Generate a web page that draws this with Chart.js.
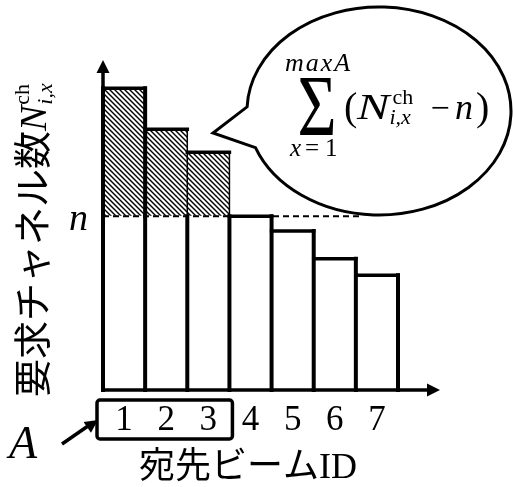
<!DOCTYPE html>
<html>
<head>
<meta charset="utf-8">
<script src="https://cdn.jsdelivr.net/npm/chart.js@4"></script>
<style>
  html, body { margin: 0; padding: 0; background: #fff; }
  canvas { display: block; }
</style>
</head>
<body>
<canvas id="beam-chart" width="513" height="487"></canvas>
<script>
// Requested channels per destination beam
const beamIds = ['1', '2', '3', '4', '5', '6', '7'];
const requestedChannels = [18.4, 15.9, 14.5, 10.6, 9.7, 8.0, 7.0];
const channelLimit = 10.6;   // n
const groupSize = 3;         // beams inside A
const yMax = 20;

const SERIF = "'Liberation Serif', 'DejaVu Serif', serif";
const JP = "'Liberation Serif', 'Noto Sans CJK JP', sans-serif";

// Split each bar into the part up to n and the excess above it
const baseValues = requestedChannels.map(v => Math.min(v, channelLimit));
const excessValues = requestedChannels.map(v => (v > channelLimit ? v - channelLimit : null));

// Diagonal hatch fill for the excess part
function makeHatch() {
  const s = 5;
  const tile = document.createElement('canvas');
  tile.width = s;
  tile.height = s;
  const t = tile.getContext('2d');
  t.fillStyle = '#fff';
  t.fillRect(0, 0, s, s);
  t.strokeStyle = '#000';
  t.lineWidth = 1.4;
  for (const c of [-s, 0, s]) {
    t.beginPath();
    t.moveTo(-1, -1 + c);
    t.lineTo(s + 1, s + 1 + c);
    t.stroke();
  }
  return t.createPattern(tile, 'repeat');
}

function arrowHead(ctx, x, y, angle, len, half) {
  ctx.save();
  ctx.translate(x, y);
  ctx.rotate(angle);
  ctx.beginPath();
  ctx.moveTo(0, 0);
  ctx.lineTo(-len, -half);
  ctx.lineTo(-len, half);
  ctx.closePath();
  ctx.fill();
  ctx.restore();
}

function line(ctx, x1, y1, x2, y2, w) {
  ctx.lineWidth = w;
  ctx.beginPath();
  ctx.moveTo(x1, y1);
  ctx.lineTo(x2, y2);
  ctx.stroke();
}

// Bar outlines, axes, threshold line and annotations
const overlay = {
  id: 'overlay',
  afterDatasetsDraw(chart) {
    const ctx = chart.ctx;
    const y = chart.scales.y;
    const area = chart.chartArea;
    const y0 = y.getPixelForValue(0);
    const yn = y.getPixelForValue(channelLimit);
    const baseBars = chart.getDatasetMeta(0).data;
    const excessBars = chart.getDatasetMeta(1).data;
    const thick = 4;

    ctx.save();
    ctx.fillStyle = '#000';
    ctx.strokeStyle = '#000';
    ctx.lineCap = 'square';

    // outlines: shared edges between neighbouring bars
    baseBars.forEach((bar, i) => {
      const left = bar.x - bar.width / 2;
      const right = bar.x + bar.width / 2;
      const hasExcess = excessValues[i] !== null;
      const top = hasExcess ? excessBars[i].y : bar.y;
      line(ctx, right, y0, right, hasExcess ? yn : top, thick);
      if (hasExcess) {
        line(ctx, right, yn, right, top, i === 0 ? thick : 1.5);
      }
      if (i === 0) line(ctx, left, y0, left, top, thick);
      line(ctx, left, top, right, top, 3.5);
    });

    // n threshold (dashed)
    ctx.lineCap = 'butt';
    ctx.lineWidth = 2;
    ctx.setLineDash([6, 4]);
    ctx.beginPath();
    ctx.moveTo(area.left, yn);
    ctx.lineTo(362, yn);
    ctx.stroke();
    ctx.setLineDash([]);

    ctx.font = 'italic 38px ' + SERIF;
    ctx.textAlign = 'right';
    ctx.textBaseline = 'alphabetic';
    ctx.fillText('n', 88, yn + 14);

    // axes with arrows
    line(ctx, area.left, y0, area.left, area.top + 8, 3.5);
    line(ctx, area.left, y0, 430, y0, 3.5);
    arrowHead(ctx, area.left, area.top - 2, -Math.PI / 2, 13, 6.5);
    arrowHead(ctx, 440, y0, 0, 13, 6.5);

    // box around beams 1..A
    const first = baseBars[0];
    const last = baseBars[groupSize - 1];
    const boxL = first.x - first.width / 2 - 6;
    const boxR = last.x + last.width / 2 + 3;
    ctx.lineWidth = 3.5;
    ctx.beginPath();
    ctx.roundRect(boxL, 400, boxR - boxL, 39, 3);
    ctx.stroke();

    // A with arrow pointing at the box
    ctx.font = 'italic 46px ' + SERIF;
    ctx.textAlign = 'left';
    ctx.fillText('A', 9, 458);
    line(ctx, 62, 444, 88, 426, 3.5);
    arrowHead(ctx, boxL + 1, 420, Math.atan2(-24, 35), 13, 6.5);

    // x axis title
    ctx.font = '36px ' + JP;
    ctx.textAlign = 'center';
    ctx.fillText('宛先ビームID', 248, 478);

    // y axis title, rotated
    ctx.save();
    ctx.translate(32, 397);
    ctx.rotate(-Math.PI / 2);
    ctx.textAlign = 'left';
    ctx.font = '38px ' + JP;
    const head = '要求チャネル数';
    ctx.fillText(head, 0, 14);
    let cx = ctx.measureText(head).width;
    ctx.font = 'italic 38px ' + SERIF;
    ctx.fillText('N', cx, 14);
    cx += ctx.measureText('N').width + 1;
    ctx.font = '22px ' + SERIF;
    ctx.fillText('ch', cx, -3);
    ctx.font = 'italic 22px ' + SERIF;
    ctx.fillText('i,x', cx, 20);
    ctx.restore();

    // speech bubble
    const ex = 379, ey = 111, rx = 132, ry = 104;
    ctx.beginPath();
    ctx.ellipse(ex, ey, rx, ry, 0, Math.PI + 0.04, Math.PI - 0.36, false);
    ctx.lineTo(213, 133);
    ctx.closePath();
    ctx.fillStyle = '#fff';
    ctx.fill();
    ctx.lineWidth = 3;
    ctx.lineJoin = 'miter';
    ctx.stroke();

    // summation formula
    ctx.fillStyle = '#000';
    ctx.textAlign = 'left';
    ctx.font = 'italic 26px ' + SERIF;
    ctx.letterSpacing = '2px';
    ctx.fillText('maxA', 285, 71);
    ctx.letterSpacing = '0px';

    ctx.save();
    ctx.translate(317, 135);
    ctx.scale(1.05, 1.34);
    ctx.textAlign = 'center';
    ctx.font = '64px ' + SERIF;
    ctx.fillText('\u03A3', 0, 0);
    ctx.restore();

    ctx.font = 'italic 25px ' + SERIF;
    ctx.fillText('x', 290, 156);
    ctx.font = '25px ' + SERIF;
    ctx.fillText('=', 305, 156);
    ctx.fillText('1', 325, 156);

    ctx.font = '40px ' + SERIF;
    ctx.fillText('(', 344, 120);

    // wide italic N
    ctx.save();
    ctx.translate(357, 119);
    ctx.scale(1.35, 1);
    ctx.font = 'italic 36px ' + SERIF;
    ctx.fillText('N', 0, 0);
    const nW = ctx.measureText('N').width * 1.35;
    ctx.restore();
    const supX = 357 + nW + 3;
    ctx.font = '22px ' + SERIF;
    ctx.fillText('ch', supX, 104);
    ctx.font = 'italic 22px ' + SERIF;
    ctx.fillText('i,x', supX - 3, 124);

    ctx.textAlign = 'center';
    ctx.font = '34px ' + SERIF;
    ctx.fillText('\u2212', 440, 119);
    ctx.textAlign = 'left';
    ctx.font = 'italic 36px ' + SERIF;
    ctx.fillText('n', 455, 119);
    ctx.font = '40px ' + SERIF;
    ctx.fillText(')', 476, 120);

    ctx.restore();
  }
};

const ctx = document.getElementById('beam-chart');
const hatch = makeHatch();

new Chart(ctx, {
  type: 'bar',
  data: {
    labels: beamIds,
    datasets: [
      {
        label: 'base',
        data: baseValues,
        backgroundColor: '#fff',
        borderWidth: 0,
        barPercentage: 1,
        categoryPercentage: 1
      },
      {
        label: 'excess',
        data: excessValues,
        backgroundColor: hatch,
        borderWidth: 0,
        barPercentage: 1,
        categoryPercentage: 1
      }
    ]
  },
  options: {
    responsive: false,
    animation: false,
    layout: { padding: { left: 103, right: 115, top: 62, bottom: 0 } },
    plugins: {
      legend: { display: false },
      tooltip: { enabled: false }
    },
    scales: {
      x: {
        stacked: true,
        grid: { display: false, drawTicks: false },
        border: { display: false },
        ticks: {
          color: '#000',
          font: { family: 'Liberation Serif', size: 35 },
          padding: 10,
          maxRotation: 0,
          autoSkip: false
        },
        afterFit(scale) {
          scale.height = 97;
        }
      },
      y: {
        stacked: true,
        display: false,
        min: 0,
        max: yMax
      }
    }
  },
  plugins: [overlay]
});
</script>
</body>
</html>
